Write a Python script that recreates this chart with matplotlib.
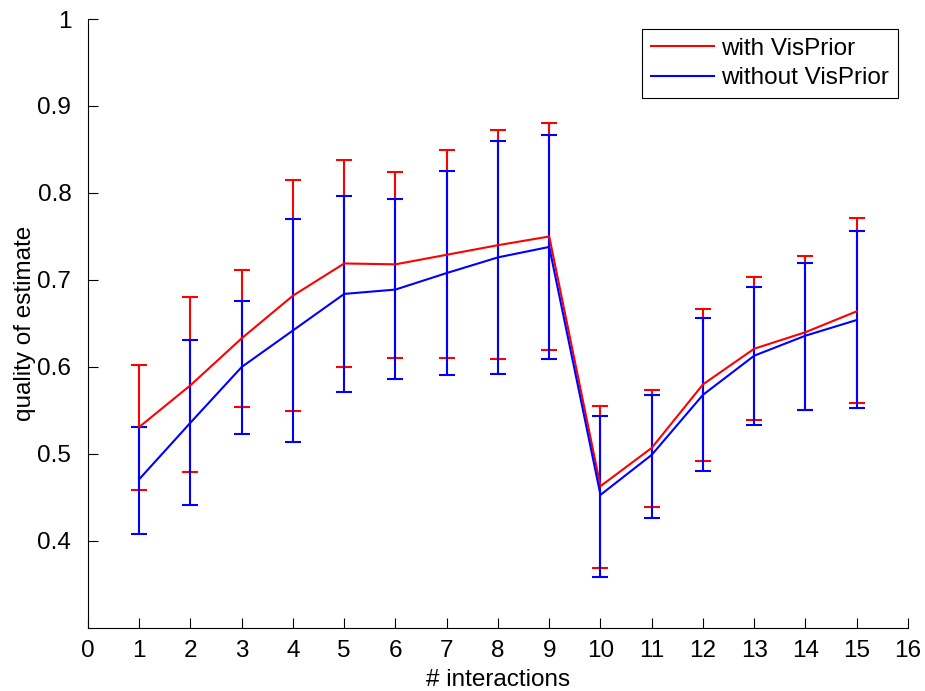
import matplotlib
matplotlib.use("Agg")
import matplotlib.pyplot as plt

# interactions and the two series (mean, upper and lower ends of the bars)
interactions = [1, 2, 3, 4, 5, 6, 7, 8, 9, 10, 11, 12, 13, 14, 15]

with_mean = [0.531, 0.579, 0.633, 0.682, 0.719, 0.718, 0.729, 0.740, 0.750,
             0.463, 0.507, 0.580, 0.621, 0.640, 0.664]
with_upper = [0.602, 0.681, 0.712, 0.815, 0.838, 0.824, 0.849, 0.872, 0.881,
              0.555, 0.573, 0.667, 0.703, 0.728, 0.771]
with_lower = [0.459, 0.479, 0.554, 0.549, 0.600, 0.610, 0.610, 0.609, 0.619,
              0.369, 0.439, 0.492, 0.539, 0.551, 0.559]

without_mean = [0.471, 0.536, 0.600, 0.642, 0.684, 0.689, 0.708, 0.726, 0.738,
                0.453, 0.499, 0.568, 0.613, 0.636, 0.654]
without_upper = [0.531, 0.631, 0.676, 0.770, 0.796, 0.793, 0.825, 0.860, 0.867,
                 0.544, 0.568, 0.656, 0.692, 0.720, 0.756]
without_lower = [0.408, 0.441, 0.523, 0.514, 0.571, 0.586, 0.591, 0.592, 0.609,
                 0.359, 0.426, 0.480, 0.533, 0.551, 0.553]

plt.rcParams['font.family'] = ['Liberation Sans', 'DejaVu Sans']

fig = plt.figure(figsize=(9.25, 6.91), dpi=100)
ax = fig.add_axes([0.0951, 0.0912, 0.8865, 0.8813])

def draw(mean, upper, lower, color, label):
    err = [[m - lo for m, lo in zip(mean, lower)],
           [u - m for m, u in zip(mean, upper)]]
    ax.errorbar(interactions, mean, yerr=err, color=color, lw=1.5,
                elinewidth=1.5, capsize=6, capthick=1.5, label=label)

draw(with_mean, with_upper, with_lower, "red", "with VisPrior")
draw(without_mean, without_upper, without_lower, "blue", "without VisPrior")

ax.set_xlim(0, 16)
ax.set_ylim(0.3, 1.0)
ax.set_xticks(range(0, 17))
ax.set_yticks([0.4, 0.5, 0.6, 0.7, 0.8, 0.9, 1.0])
ax.set_yticklabels(["0.4", "0.5", "0.6", "0.7", "0.8", "0.9", "1"])
ax.spines['top'].set_visible(False)
ax.spines['right'].set_visible(False)
ax.tick_params(direction='in', length=7, labelsize=17.5)
ax.tick_params(axis='y', pad=12)
ax.tick_params(axis='x', pad=9)
ax.set_xlabel("# interactions", fontsize=17.5, labelpad=5)
ax.set_ylabel("quality of estimate", fontsize=17.5, labelpad=1)

handles, labels = ax.get_legend_handles_labels()
handles = [h[0] for h in handles]
leg = ax.legend(handles, labels, loc='upper right', fontsize=17.5, fancybox=False,
                framealpha=1, edgecolor='black', borderaxespad=0.42,
                handlelength=2.6, handletextpad=0.3, borderpad=0.35,
                labelspacing=0.3)
leg.get_frame().set_linewidth(0.8)

fig.savefig("out.png", dpi=100)
